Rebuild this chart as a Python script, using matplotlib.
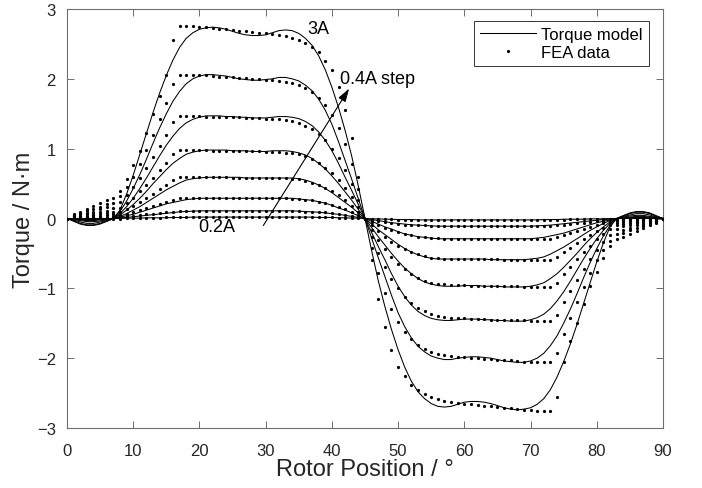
import matplotlib
matplotlib.use("Agg")
import matplotlib.pyplot as plt
import numpy as np

plt.rcParams['font.family'] = ['Liberation Sans', 'DejaVu Sans']

# Rotor position (degrees), 1-degree steps
theta = list(range(0, 91))

currents = ["0.2A", "0.6A", "1.0A", "1.4A", "1.8A", "2.2A", "2.6A", "3A"]

# ---------------- Torque model (N·m) ----------------
model_3A = [0, -0.04, -0.08, -0.10, -0.10, -0.08, -0.04, 0.00,
            0.12, 0.35, 0.62, 0.92, 1.22, 1.52, 1.80, 2.05,
            2.27, 2.45, 2.58, 2.66, 2.71, 2.73, 2.74, 2.73,
            2.71, 2.68, 2.65, 2.63, 2.62, 2.62, 2.63, 2.66,
            2.69, 2.70, 2.69, 2.65, 2.58, 2.48, 2.33, 2.13,
            1.88, 1.59, 1.26, 0.89, 0.46, 0.00,
            -0.46, -0.89, -1.26, -1.59, -1.88, -2.13, -2.33, -2.48, -2.58, -2.65,
            -2.69, -2.70, -2.69, -2.66, -2.63, -2.62, -2.62, -2.63, -2.65, -2.68,
            -2.71, -2.73, -2.74, -2.73, -2.71, -2.66, -2.58, -2.45, -2.27, -2.05,
            -1.80, -1.52, -1.22, -0.92, -0.62, -0.35, -0.12, 0.00, 0.04, 0.08,
            0.10, 0.10, 0.08, 0.04, 0.00]
model_2A6 = [0, -0.03, -0.07, -0.09, -0.09, -0.07, -0.04, 0.00,
             0.10, 0.25, 0.43, 0.63, 0.85, 1.08, 1.30, 1.50,
             1.68, 1.82, 1.93, 2.00, 2.04, 2.06, 2.06, 2.05,
             2.04, 2.02, 2.00, 1.99, 1.98, 1.98, 1.99, 2.00,
             2.02, 2.02, 2.00, 1.97, 1.91, 1.83, 1.71, 1.55,
             1.35, 1.10, 0.83, 0.56, 0.28, 0.00,
             -0.28, -0.56, -0.83, -1.10, -1.35, -1.55, -1.71, -1.83, -1.91, -1.97,
             -2.00, -2.02, -2.02, -2.00, -1.99, -1.98, -1.98, -1.99, -2.00, -2.02,
             -2.04, -2.05, -2.06, -2.06, -2.04, -2.00, -1.93, -1.82, -1.68, -1.50,
             -1.30, -1.08, -0.85, -0.63, -0.43, -0.25, -0.10, 0.00, 0.04, 0.07,
             0.09, 0.09, 0.07, 0.03, 0.00]
model_2A2 = [0, -0.02, -0.05, -0.07, -0.07, -0.05, -0.03, 0.00,
             0.07, 0.17, 0.29, 0.43, 0.58, 0.74, 0.90, 1.05,
             1.18, 1.29, 1.37, 1.42, 1.45, 1.47, 1.47, 1.47,
             1.46, 1.46, 1.45, 1.45, 1.44, 1.44, 1.44, 1.45,
             1.46, 1.46, 1.45, 1.43, 1.39, 1.33, 1.24, 1.12,
             0.97, 0.79, 0.59, 0.40, 0.20, 0.00,
             -0.20, -0.40, -0.59, -0.79, -0.97, -1.12, -1.24, -1.33, -1.39, -1.43,
             -1.45, -1.46, -1.46, -1.45, -1.44, -1.44, -1.44, -1.45, -1.45, -1.46,
             -1.46, -1.47, -1.47, -1.47, -1.45, -1.42, -1.37, -1.29, -1.18, -1.05,
             -0.90, -0.74, -0.58, -0.43, -0.29, -0.17, -0.07, 0.00, 0.03, 0.05,
             0.07, 0.07, 0.05, 0.02, 0.00]
model_1A8 = [0, -0.015, -0.03, -0.045, -0.045, -0.035, -0.02, 0.00,
             0.05, 0.12, 0.20, 0.29, 0.39, 0.50, 0.60, 0.70,
             0.79, 0.86, 0.92, 0.95, 0.97, 0.98, 0.98, 0.98,
             0.98, 0.97, 0.97, 0.97, 0.96, 0.96, 0.96, 0.97,
             0.97, 0.97, 0.96, 0.94, 0.91, 0.86, 0.79, 0.71,
             0.61, 0.50, 0.38, 0.26, 0.13, 0.00,
             -0.13, -0.26, -0.38, -0.50, -0.61, -0.71, -0.79, -0.86, -0.91, -0.94,
             -0.96, -0.97, -0.97, -0.97, -0.96, -0.96, -0.96, -0.97, -0.97, -0.97,
             -0.98, -0.98, -0.98, -0.98, -0.97, -0.95, -0.92, -0.86, -0.79, -0.70,
             -0.60, -0.50, -0.39, -0.29, -0.20, -0.12, -0.05, 0.00, 0.02, 0.035,
             0.045, 0.045, 0.03, 0.015, 0.00]
model_1A4 = [0, -0.01, -0.02, -0.03, -0.03, -0.02, -0.01, 0.00,
             0.03, 0.07, 0.12, 0.17, 0.23, 0.29, 0.35, 0.41,
             0.46, 0.51, 0.55, 0.57, 0.58, 0.59, 0.59, 0.59,
             0.59, 0.59, 0.59, 0.58, 0.58, 0.58, 0.58, 0.58,
             0.58, 0.58, 0.58, 0.57, 0.55, 0.52, 0.48, 0.43,
             0.37, 0.30, 0.23, 0.16, 0.08, 0.00,
             -0.08, -0.16, -0.23, -0.30, -0.37, -0.43, -0.48, -0.52, -0.55, -0.57,
             -0.58, -0.58, -0.58, -0.58, -0.58, -0.58, -0.58, -0.58, -0.59, -0.59,
             -0.59, -0.59, -0.59, -0.59, -0.58, -0.57, -0.55, -0.51, -0.46, -0.41,
             -0.35, -0.29, -0.23, -0.17, -0.12, -0.07, -0.03, 0.00, 0.01, 0.02,
             0.03, 0.03, 0.02, 0.01, 0.00]
model_1A0 = [0, -0.005, -0.01, -0.015, -0.015, -0.01, -0.005, 0.00,
             0.02, 0.04, 0.06, 0.09, 0.12, 0.15, 0.18, 0.21,
             0.23, 0.25, 0.27, 0.28, 0.29, 0.29, 0.29, 0.29,
             0.29, 0.29, 0.29, 0.29, 0.29, 0.29, 0.29, 0.29,
             0.29, 0.29, 0.29, 0.28, 0.27, 0.26, 0.24, 0.22,
             0.19, 0.15, 0.12, 0.08, 0.04, 0.00,
             -0.04, -0.08, -0.12, -0.15, -0.19, -0.22, -0.24, -0.26, -0.27, -0.28,
             -0.29, -0.29, -0.29, -0.29, -0.29, -0.29, -0.29, -0.29, -0.29, -0.29,
             -0.29, -0.29, -0.29, -0.29, -0.29, -0.28, -0.27, -0.25, -0.23, -0.21,
             -0.18, -0.15, -0.12, -0.09, -0.06, -0.04, -0.02, 0.00, 0.005, 0.01,
             0.015, 0.015, 0.01, 0.005, 0.00]
model_0A6 = [0, 0.0, -0.005, -0.005, -0.005, -0.005, 0.0, 0.0,
             0.01, 0.015, 0.025, 0.035, 0.045, 0.055, 0.065, 0.075,
             0.085, 0.095, 0.10, 0.105, 0.11, 0.11, 0.11, 0.11,
             0.11, 0.11, 0.11, 0.11, 0.11, 0.11, 0.11, 0.11,
             0.11, 0.11, 0.11, 0.105, 0.10, 0.095, 0.09, 0.08,
             0.07, 0.06, 0.045, 0.03, 0.015, 0.00,
             -0.015, -0.03, -0.045, -0.06, -0.07, -0.08, -0.09, -0.095, -0.10, -0.105,
             -0.11, -0.11, -0.11, -0.11, -0.11, -0.11, -0.11, -0.11, -0.11, -0.11,
             -0.11, -0.11, -0.11, -0.11, -0.11, -0.105, -0.10, -0.095, -0.085, -0.075,
             -0.065, -0.055, -0.045, -0.035, -0.025, -0.015, -0.01, 0.0, 0.0, 0.005,
             0.005, 0.005, 0.005, 0.0, 0.0]
model_0A2 = [0, 0, 0, 0, 0, 0, 0, 0,
             0, 0.005, 0.005, 0.005, 0.01, 0.01, 0.01, 0.01,
             0.015, 0.015, 0.015, 0.02, 0.02, 0.02, 0.02, 0.02,
             0.02, 0.02, 0.02, 0.02, 0.02, 0.02, 0.02, 0.02,
             0.02, 0.02, 0.02, 0.02, 0.02, 0.02, 0.015, 0.015,
             0.015, 0.01, 0.01, 0.005, 0.005, 0.00,
             -0.005, -0.005, -0.01, -0.01, -0.015, -0.015, -0.015, -0.02, -0.02, -0.02,
             -0.02, -0.02, -0.02, -0.02, -0.02, -0.02, -0.02, -0.02, -0.02, -0.02,
             -0.02, -0.02, -0.02, -0.02, -0.02, -0.02, -0.015, -0.015, -0.015, -0.01,
             -0.01, -0.01, -0.01, -0.005, -0.005, -0.005, 0, 0, 0, 0,
             0, 0, 0, 0, 0]

# ---------------- FEA data (N·m) ----------------
fea_3A = [0, 0.07, 0.10, 0.14, 0.18, 0.22, 0.27, 0.30,
          0.40, 0.57, 0.76, 0.97, 1.23, 1.50, 1.76, 2.05,
          2.56, 2.75, 2.75, 2.75, 2.74, 2.74, 2.73, 2.72,
          2.71, 2.70, 2.69, 2.68, 2.67, 2.66, 2.65, 2.64,
          2.63, 2.61, 2.59, 2.56, 2.52, 2.46, 2.38, 2.26,
          2.12, 1.88, 1.55, 1.15, 0.60, 0.00,
          -0.60, -1.15, -1.55, -1.88, -2.12, -2.26, -2.38, -2.46, -2.52, -2.56,
          -2.59, -2.61, -2.63, -2.64, -2.65, -2.66, -2.67, -2.68, -2.69, -2.70,
          -2.71, -2.72, -2.73, -2.74, -2.74, -2.75, -2.75, -2.75, -2.56, -2.05,
          -1.76, -1.50, -1.23, -0.97, -0.76, -0.57, -0.40, -0.30, -0.27, -0.22,
          -0.18, -0.14, -0.10, -0.07, 0.00]
fea_2A6 = [0, 0.05, 0.08, 0.11, 0.14, 0.17, 0.21, 0.22,
           0.32, 0.45, 0.60, 0.78, 0.98, 1.20, 1.42, 1.65,
           1.93, 2.06, 2.06, 2.06, 2.05, 2.05, 2.04, 2.03,
           2.03, 2.02, 2.01, 2.01, 2.00, 2.00, 1.99, 1.98,
           1.97, 1.96, 1.94, 1.91, 1.87, 1.81, 1.73, 1.62,
           1.48, 1.30, 1.06, 0.78, 0.42, 0.00,
           -0.42, -0.78, -1.06, -1.30, -1.48, -1.62, -1.73, -1.81, -1.87, -1.91,
           -1.94, -1.96, -1.97, -1.98, -1.99, -2.00, -2.00, -2.01, -2.01, -2.02,
           -2.03, -2.03, -2.04, -2.05, -2.05, -2.06, -2.06, -2.06, -1.93, -1.65,
           -1.42, -1.20, -0.98, -0.78, -0.60, -0.45, -0.32, -0.22, -0.21, -0.17,
           -0.14, -0.11, -0.08, -0.05, 0.00]
fea_2A2 = [0, 0.04, 0.06, 0.08, 0.10, 0.13, 0.16, 0.15,
           0.23, 0.33, 0.45, 0.58, 0.72, 0.88, 1.04, 1.20,
           1.38, 1.47, 1.47, 1.47, 1.47, 1.46, 1.46, 1.46,
           1.45, 1.45, 1.45, 1.44, 1.44, 1.44, 1.43, 1.43,
           1.42, 1.41, 1.40, 1.37, 1.33, 1.28, 1.21, 1.12,
           1.00, 0.86, 0.69, 0.49, 0.26, 0.00,
           -0.26, -0.49, -0.69, -0.86, -1.00, -1.12, -1.21, -1.28, -1.33, -1.37,
           -1.40, -1.41, -1.42, -1.43, -1.43, -1.44, -1.44, -1.44, -1.45, -1.45,
           -1.45, -1.46, -1.46, -1.46, -1.47, -1.47, -1.47, -1.47, -1.38, -1.20,
           -1.04, -0.88, -0.72, -0.58, -0.45, -0.33, -0.23, -0.15, -0.16, -0.13,
           -0.10, -0.08, -0.06, -0.04, 0.00]
fea_1A8 = [0, 0.03, 0.04, 0.06, 0.07, 0.09, 0.11, 0.10,
           0.15, 0.22, 0.30, 0.39, 0.48, 0.58, 0.69, 0.80,
           0.92, 0.98, 0.98, 0.98, 0.98, 0.98, 0.97, 0.97,
           0.97, 0.97, 0.96, 0.96, 0.96, 0.96, 0.95, 0.95,
           0.95, 0.94, 0.94, 0.92, 0.89, 0.85, 0.80, 0.73,
           0.65, 0.55, 0.44, 0.31, 0.16, 0.00,
           -0.16, -0.31, -0.44, -0.55, -0.65, -0.73, -0.80, -0.85, -0.89, -0.92,
           -0.94, -0.94, -0.95, -0.95, -0.95, -0.96, -0.96, -0.96, -0.96, -0.97,
           -0.97, -0.97, -0.97, -0.98, -0.98, -0.98, -0.98, -0.98, -0.92, -0.80,
           -0.69, -0.58, -0.48, -0.39, -0.30, -0.22, -0.15, -0.10, -0.11, -0.09,
           -0.07, -0.06, -0.04, -0.03, 0.00]
fea_1A4 = [0, 0.02, 0.03, 0.04, 0.05, 0.06, 0.08, 0.06,
           0.09, 0.13, 0.18, 0.23, 0.29, 0.35, 0.42, 0.48,
           0.55, 0.59, 0.59, 0.59, 0.59, 0.59, 0.59, 0.59,
           0.59, 0.58, 0.58, 0.58, 0.58, 0.58, 0.58, 0.58,
           0.58, 0.58, 0.57, 0.56, 0.54, 0.51, 0.48, 0.44,
           0.39, 0.33, 0.26, 0.18, 0.09, 0.00,
           -0.09, -0.18, -0.26, -0.33, -0.39, -0.44, -0.48, -0.51, -0.54, -0.56,
           -0.57, -0.58, -0.58, -0.58, -0.58, -0.58, -0.58, -0.58, -0.58, -0.58,
           -0.59, -0.59, -0.59, -0.59, -0.59, -0.59, -0.59, -0.59, -0.55, -0.48,
           -0.42, -0.35, -0.29, -0.23, -0.18, -0.13, -0.09, -0.06, -0.08, -0.06,
           -0.05, -0.04, -0.03, -0.02, 0.00]
fea_1A0 = [0, 0.01, 0.02, 0.02, 0.03, 0.04, 0.05, 0.03,
           0.05, 0.07, 0.09, 0.12, 0.15, 0.18, 0.21, 0.24,
           0.27, 0.29, 0.29, 0.29, 0.29, 0.29, 0.29, 0.29,
           0.29, 0.29, 0.29, 0.29, 0.29, 0.29, 0.29, 0.29,
           0.29, 0.29, 0.28, 0.28, 0.27, 0.26, 0.24, 0.22,
           0.19, 0.16, 0.13, 0.09, 0.05, 0.00,
           -0.05, -0.09, -0.13, -0.16, -0.19, -0.22, -0.24, -0.26, -0.27, -0.28,
           -0.28, -0.29, -0.29, -0.29, -0.29, -0.29, -0.29, -0.29, -0.29, -0.29,
           -0.29, -0.29, -0.29, -0.29, -0.29, -0.29, -0.29, -0.29, -0.27, -0.24,
           -0.21, -0.18, -0.15, -0.12, -0.09, -0.07, -0.05, -0.03, -0.05, -0.04,
           -0.03, -0.02, -0.02, -0.01, 0.00]
fea_0A6 = [0, 0.005, 0.01, 0.01, 0.015, 0.02, 0.02, 0.015,
           0.02, 0.03, 0.04, 0.05, 0.06, 0.07, 0.08, 0.09,
           0.10, 0.11, 0.11, 0.11, 0.11, 0.11, 0.11, 0.11,
           0.11, 0.11, 0.11, 0.11, 0.11, 0.11, 0.11, 0.11,
           0.11, 0.11, 0.11, 0.11, 0.10, 0.10, 0.095, 0.09,
           0.08, 0.065, 0.05, 0.035, 0.02, 0.00,
           -0.02, -0.035, -0.05, -0.065, -0.08, -0.09, -0.095, -0.10, -0.10, -0.11,
           -0.11, -0.11, -0.11, -0.11, -0.11, -0.11, -0.11, -0.11, -0.11, -0.11,
           -0.11, -0.11, -0.11, -0.11, -0.11, -0.11, -0.11, -0.11, -0.10, -0.09,
           -0.08, -0.07, -0.06, -0.05, -0.04, -0.03, -0.02, -0.015, -0.02, -0.02,
           -0.015, -0.01, -0.01, -0.005, 0.00]
fea_0A2 = [0, 0, 0, 0, 0, 0.005, 0.005, 0,
           0, 0.005, 0.005, 0.005, 0.01, 0.01, 0.01, 0.015,
           0.015, 0.02, 0.02, 0.02, 0.02, 0.02, 0.02, 0.02,
           0.02, 0.02, 0.02, 0.02, 0.02, 0.02, 0.02, 0.02,
           0.02, 0.02, 0.02, 0.02, 0.02, 0.02, 0.015, 0.015,
           0.015, 0.01, 0.01, 0.005, 0.005, 0.00,
           -0.005, -0.005, -0.01, -0.01, -0.015, -0.015, -0.015, -0.02, -0.02, -0.02,
           -0.02, -0.02, -0.02, -0.02, -0.02, -0.02, -0.02, -0.02, -0.02, -0.02,
           -0.02, -0.02, -0.02, -0.02, -0.02, -0.02, -0.02, -0.02, -0.015, -0.015,
           -0.01, -0.01, -0.01, -0.005, -0.005, -0.005, 0, 0, -0.005, -0.005,
           0, 0, 0, 0, 0]

model_series = [model_0A2, model_0A6, model_1A0, model_1A4,
                model_1A8, model_2A2, model_2A6, model_3A]
fea_series = [fea_0A2, fea_0A6, fea_1A0, fea_1A4,
              fea_1A8, fea_2A2, fea_2A6, fea_3A]

xticks = [0, 10, 20, 30, 40, 50, 60, 70, 80, 90]
yticks = [-3, -2, -1, 0, 1, 2, 3]

text_color = '#262626'
frame_color = '#6e6e6e'

fig = plt.figure(figsize=(7.02, 4.89), dpi=100)
ax = fig.add_axes([67 / 702, 60 / 489, 596 / 702, 419 / 489])

for i, (m, f) in enumerate(zip(model_series, fea_series)):
    ax.plot(theta, m, color='black', linewidth=0.75,
            label='Torque model' if i == 0 else None, zorder=2)
    ax.plot(theta, f, linestyle='none', marker='o', markersize=2.3,
            markeredgewidth=0, color='black',
            label='FEA data' if i == 0 else None, zorder=3)

ax.set_xlim(0, 90)
ax.set_ylim(-3, 3)
ax.set_xticks(xticks)
ax.set_yticks(yticks)
ax.tick_params(direction='in', length=5, width=0.7, colors=frame_color,
               labelcolor=text_color, labelsize=12, top=True, right=True)
ax.tick_params(axis='x', pad=11)
ax.tick_params(axis='y', pad=8)
for sp in ax.spines.values():
    sp.set_color(frame_color)
    sp.set_linewidth(0.8)

ax.set_xlabel('Rotor Position / °', fontsize=17, color=text_color, labelpad=0)
ax.set_ylabel('Torque / N·m', fontsize=17, color=text_color, labelpad=1)

# annotations
ax.text(38.0, 2.72, '3A', fontsize=13, color='black', ha='center', va='center')
ax.text(41.2, 2.0, '0.4A step', fontsize=13, color='black', ha='left', va='center')
ax.text(19.8, -0.12, '0.2A', fontsize=13, color='black', ha='left', va='center')
ax.annotate('', xy=(42.6, 1.86), xytext=(29.65, -0.10),
            arrowprops=dict(arrowstyle='-|>,head_length=0.8,head_width=0.25',
                            color='black', lw=0.8, shrinkA=0, shrinkB=0))

leg = ax.legend(loc='upper right', bbox_to_anchor=(0.976, 0.972), borderaxespad=0,
                fontsize=12, frameon=True, fancybox=False, handlelength=3.4,
                handletextpad=0.3, borderpad=0.35, labelspacing=0.2)
leg.get_frame().set_edgecolor('black')
leg.get_frame().set_linewidth(0.7)

fig.savefig('out.png', dpi=100)
